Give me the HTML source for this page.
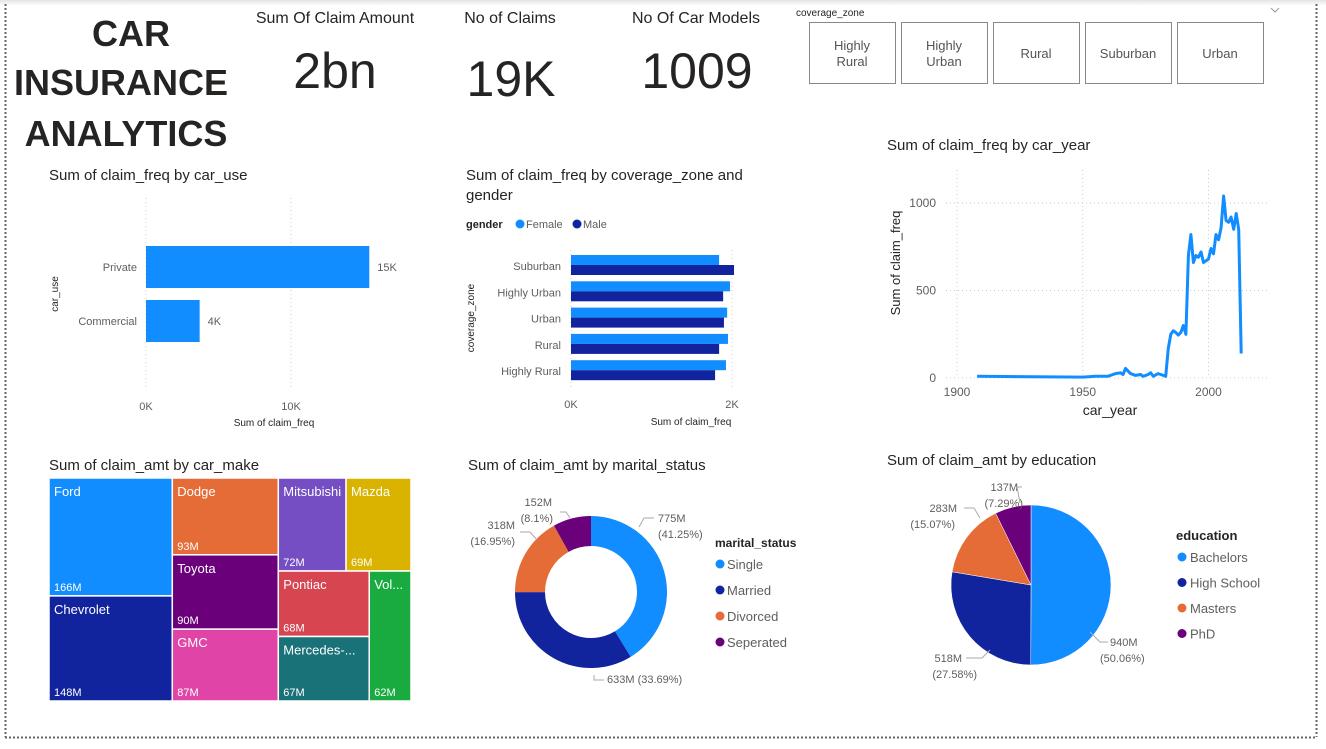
<!DOCTYPE html>
<html><head><meta charset="utf-8"><style>
body{margin:0;width:1326px;height:744px;background:#fff;font-family:"Liberation Sans",sans-serif;overflow:hidden}
svg text{font-family:"Liberation Sans",sans-serif}
</style></head><body>
<svg id="s" width="1326" height="744" xmlns="http://www.w3.org/2000/svg">
<defs><linearGradient id="sh" x1="0" y1="0" x2="0" y2="1"><stop offset="0" stop-color="#e4e4e4"/><stop offset="1" stop-color="#fff"/></linearGradient></defs>
<rect x="0" y="0" width="1326" height="6" fill="url(#sh)"/>
<line x1="5.5" y1="4" x2="5.5" y2="737" stroke="#666" stroke-width="2" stroke-dasharray="2,2"/>
<line x1="1316.5" y1="4" x2="1316.5" y2="737" stroke="#666" stroke-width="2" stroke-dasharray="2,2"/>
<line x1="5" y1="737.5" x2="1317" y2="737.5" stroke="#666" stroke-width="2" stroke-dasharray="2,2"/>
<g font-weight="bold" font-size="36" fill="#252423" text-anchor="middle">
<text x="131" y="46">CAR</text><text x="121" y="95">INSURANCE</text><text x="126" y="146">ANALYTICS</text></g>
<g text-anchor="middle" fill="#252423">
<text x="335" y="23" font-size="16">Sum Of Claim Amount</text><text x="335" y="88" font-size="50">2bn</text></g>
<g text-anchor="middle" fill="#252423">
<text x="510" y="23" font-size="16">No of Claims</text><text x="511" y="96" font-size="50">19K</text></g>
<g text-anchor="middle" fill="#252423">
<text x="696" y="23" font-size="16">No Of Car Models</text><text x="697" y="88" font-size="50">1009</text></g>
<text x="796" y="16" font-size="10" fill="#252423">coverage_zone</text>
<path d="M1271 8 l4 4 l4 -4" fill="none" stroke="#999"/>
<g id="slicer"></g>
<g font-size="15" fill="#252423">
<text x="49" y="180">Sum of claim_freq by car_use</text>
<text x="466" y="180">Sum of claim_freq by coverage_zone and</text>
<text x="466" y="200">gender</text>
<text x="887" y="150">Sum of claim_freq by car_year</text>
<text x="49" y="470">Sum of claim_amt by car_make</text>
<text x="468" y="470">Sum of claim_amt by marital_status</text>
<text x="887" y="465">Sum of claim_amt by education</text>
</g>
<g id="c1"></g><g id="c2"></g><g id="c3"></g><g id="c4"></g><g id="c5"></g><g id="c6"></g>
</svg>
<script>
const NS="http://www.w3.org/2000/svg";
function mk(p,t,a,txt){const e=document.createElementNS(NS,t);for(const k in a)e.setAttribute(k,a[k]);if(txt!==undefined)e.textContent=txt;p.appendChild(e);return e;}
const G=id=>document.getElementById(id);

// slicer
const zones=["Highly|Rural","Highly|Urban","Rural","Suburban","Urban"];
zones.forEach((z,i)=>{const x=809+i*92;
 const r=mk(G('slicer'),'rect',{x:x+.5,y:22.5,width:86,height:61,fill:'#fff',stroke:'#888'});
 
 
 const parts=z.split('|');
 parts.forEach((p,j)=>{const t=mk(G('slicer'),'text',{x:x+43,y:(parts.length==1?58:50)+j*16,'font-size':13,fill:'#555','text-anchor':'middle'},p);
 
 });
});

// chart 1: car_use
const useCats=["Private","Commercial"];
const useVals=[15.4,3.7];
const useLabels=["15K","4K"];
const useTicks=[0,10];
{const g=G('c1');const x=v=>146+v*14.5;const y0=[246,300];
 useTicks.forEach(t=>{mk(g,'line',{x1:x(t),y1:198,x2:x(t),y2:390,stroke:'#ccc','stroke-dasharray':'1,3'});
  mk(g,'text',{x:x(t),y:410,'font-size':11,fill:'#605e5c','text-anchor':'middle'},t+'K');});
 useCats.forEach((c,i)=>{const b=mk(g,'rect',{x:x(0),y:y0[i],width:x(useVals[i])-x(0),height:42,fill:'#118DFF'});
  
  
  mk(g,'text',{x:137,y:y0[i]+25,'font-size':11,fill:'#605e5c','text-anchor':'end'},c);
  mk(g,'text',{x:x(useVals[i])+8,y:y0[i]+25,'font-size':11,fill:'#605e5c'},useLabels[i]);});
 mk(g,'text',{x:274,y:426,'font-size':10,fill:'#252423','text-anchor':'middle'},'Sum of claim_freq');
 mk(g,'text',{transform:'translate(58,294) rotate(-90)','font-size':10,fill:'#252423','text-anchor':'middle'},'car_use');
}

// chart 2: coverage zone x gender
const zoneCats=["Suburban","Highly Urban","Urban","Rural","Highly Rural"];
const femaleVals=[1840,1975,1940,1950,1925];
const maleVals=[2025,1890,1900,1840,1790];
const zTicks=[0,2000];
{const g=G('c2');const x=v=>571+v*161/2000;
 mk(g,'text',{x:466,y:228,'font-size':11,'font-weight':'bold',fill:'#252423'},'gender');
 mk(g,'circle',{cx:520,cy:224,r:4.5,fill:'#118DFF'});mk(g,'text',{x:526,y:228,'font-size':11,fill:'#605e5c'},'Female');
 mk(g,'circle',{cx:577,cy:224,r:4.5,fill:'#12239E'});mk(g,'text',{x:583,y:228,'font-size':11,fill:'#605e5c'},'Male');
 zTicks.forEach(t=>{mk(g,'line',{x1:x(t),y1:250,x2:x(t),y2:390,stroke:'#ccc','stroke-dasharray':'1,3'});
  mk(g,'text',{x:x(t),y:408,'font-size':11,fill:'#605e5c','text-anchor':'middle'},(t/1000)+'K');});
 zoneCats.forEach((c,i)=>{const y=255+i*26.3;
  const f=mk(g,'rect',{x:x(0),y:y,width:x(femaleVals[i])-x(0),height:10,fill:'#118DFF'});
  
  
  const m=mk(g,'rect',{x:x(0),y:y+10,width:x(maleVals[i])-x(0),height:10,fill:'#12239E'});
  
  
  mk(g,'text',{x:561,y:y+15,'font-size':11,fill:'#605e5c','text-anchor':'end'},c);});
 mk(g,'text',{x:691,y:425,'font-size':10,fill:'#252423','text-anchor':'middle'},'Sum of claim_freq');
 mk(g,'text',{transform:'translate(474,318) rotate(-90)','font-size':10,fill:'#252423','text-anchor':'middle'},'coverage_zone');
}

// chart 3: line by car_year
const years=[1908,1950,1955,1960,1963,1965,1966,1967,1969,1971,1973,1974,1976,1977,1978,1980,1982,1983,1984,1985,1986,1987,1988,1989,1990,1991,1992,1993,1994,1995,1996,1997,1998,1999,2000,2001,2002,2003,2004,2005,2006,2007,2008,2009,2010,2011,2012,2013];
const freqVals=[10,5,10,10,25,30,20,55,25,15,20,10,20,30,10,25,15,10,170,250,270,260,245,260,300,250,700,820,660,700,690,720,660,670,680,740,710,820,790,860,1040,900,890,920,850,940,850,140];
const yearTicks=[1900,1950,2000];
const freqTicks=[0,500,1000];
{const g=G('c3');const x=v=>957+(v-1900)*2.515;const y=v=>378-v*0.175;
 freqTicks.forEach(t=>{mk(g,'line',{x1:946,y1:y(t),x2:1270,y2:y(t),stroke:'#ccc','stroke-dasharray':'1,3'});
  mk(g,'text',{x:936,y:y(t)+4,'font-size':12,fill:'#605e5c','text-anchor':'end'},t);});
 yearTicks.forEach(t=>{mk(g,'line',{x1:x(t),y1:170,x2:x(t),y2:378,stroke:'#ccc','stroke-dasharray':'1,3'});
  mk(g,'text',{x:x(t),y:396,'font-size':12,fill:'#605e5c','text-anchor':'middle'},t);});
 const l=mk(g,'path',{d:years.map((yr,i)=>(i?'L':'M')+x(yr).toFixed(1)+' '+y(freqVals[i]).toFixed(1)).join(''),fill:'none',stroke:'#118DFF','stroke-width':3,'stroke-linejoin':'round'});
 
 
 mk(g,'text',{x:1110,y:415,'font-size':14,fill:'#252423','text-anchor':'middle'},'car_year');
 mk(g,'text',{transform:'translate(900,263) rotate(-90)','font-size':13,fill:'#252423','text-anchor':'middle'},'Sum of claim_freq');
}

// chart 4: treemap
const makes=["Ford","Chevrolet","Dodge","Toyota","GMC","Mitsubishi","Mazda","Pontiac","Mercedes-...","Vol..."];
const makeVals=[166,148,93,90,87,72,69,68,67,62];
const makeLabels=["166M","148M","93M","90M","87M","72M","69M","68M","67M","62M"];
const makeColors=['#118DFF','#12239E','#E66C37','#6B007B','#E044A7','#744EC2','#D9B300','#D64550','#197278','#1AAB40'];
{const g=G('c4');let R={x:49,y:478,w:362,h:223};
 const total=makeVals.reduce((a,b)=>a+b,0);const k=R.w*R.h/total;
 const rects=[];let i=0;
 const worst=(row,side)=>{const s=row.reduce((a,b)=>a+b,0);const t=s/side;return Math.max(...row.map(a=>Math.max(t/(a/t),(a/t)/t)));};
 while(i<makeVals.length){const side=Math.min(R.w,R.h);let row=[makeVals[i]*k];let j=i+1;
  while(j<makeVals.length){const nr=row.concat([makeVals[j]*k]);if(worst(nr,side)<=worst(row,side)){row=nr;j++;}else break;}
  const s=row.reduce((a,b)=>a+b,0);
  if(R.h<=R.w){const w=s/R.h;let yy=R.y;row.forEach((a,n)=>{const h=a/w;rects.push([R.x,yy,w,h,i+n]);yy+=h;});R={x:R.x+w,y:R.y,w:R.w-w,h:R.h};}
  else{const h=s/R.w;let xx=R.x;row.forEach((a,n)=>{const w=a/h;rects.push([xx,R.y,w,h,i+n]);xx+=w;});R={x:R.x,y:R.y+h,w:R.w,h:R.h-h};}
  i=j;}
 rects.forEach(([x,y,w,h,n])=>{const r=mk(g,'rect',{x:x,y:y,width:w,height:h,fill:makeColors[n],stroke:'#fff','stroke-width':1.5});
  
  
  mk(g,'text',{x:x+5,y:y+18,'font-size':13,fill:'#fff'},makes[n]);
  mk(g,'text',{x:x+5,y:y+h-5,'font-size':11,fill:'#fff'},makeLabels[n]);});
}

function arc(cx,cy,r0,r1,a0,a1){const p=(r,a)=>[cx+r*Math.sin(a),cy-r*Math.cos(a)];const L=a1-a0>Math.PI?1:0;
 const [x1,y1]=p(r1,a0),[x2,y2]=p(r1,a1);
 if(r0==0)return `M${cx} ${cy}L${x1} ${y1}A${r1} ${r1} 0 ${L} 1 ${x2} ${y2}Z`;
 const [x3,y3]=p(r0,a1),[x4,y4]=p(r0,a0);
 return `M${x1} ${y1}A${r1} ${r1} 0 ${L} 1 ${x2} ${y2}L${x3} ${y3}A${r0} ${r0} 0 ${L} 0 ${x4} ${y4}Z`;}

// chart 5: donut
const maritalCats=["Single","Married","Divorced","Seperated"];
const maritalVals=[775,633,318,152];
const maritalPct=["41.25%","33.69%","16.95%","8.1%"];
const mColors=['#118DFF','#12239E','#E66C37','#6B007B'];
{const g=G('c5');const cx=591,cy=592;const tot=maritalVals.reduce((a,b)=>a+b,0);let a=0;
 maritalVals.forEach((v,i)=>{const a1=a+v/tot*2*Math.PI;const s=mk(g,'path',{d:arc(cx,cy,46,76,a,a1),fill:mColors[i]});
  
  a=a1;});
 const f=(i)=>maritalVals[i]+'M';
 mk(g,'text',{x:658,y:522,'font-size':11,fill:'#605e5c'},f(0));mk(g,'text',{x:658,y:538,'font-size':11,fill:'#605e5c'},'('+maritalPct[0]+')');
 mk(g,'text',{x:607,y:683,'font-size':11,fill:'#605e5c'},f(1)+' ('+maritalPct[1]+')');
 mk(g,'text',{x:515,y:529,'font-size':11,fill:'#605e5c','text-anchor':'end'},f(2));mk(g,'text',{x:515,y:545,'font-size':11,fill:'#605e5c','text-anchor':'end'},'('+maritalPct[2]+')');
 mk(g,'text',{x:552,y:506,'font-size':11,fill:'#605e5c','text-anchor':'end'},f(3));mk(g,'text',{x:553,y:522,'font-size':11,fill:'#605e5c','text-anchor':'end'},'('+maritalPct[3]+')');
 [[654,518,644,518,639,527],[594,675,594,680,604,680],[520,532,530,532,537,540],[560,512,566,512,570,518]].forEach(p=>mk(g,'path',{d:`M${p[0]} ${p[1]}L${p[2]} ${p[3]}L${p[4]} ${p[5]}`,fill:'none',stroke:'#aaa'}));
 mk(g,'text',{x:715,y:547,'font-size':12,'font-weight':'bold',fill:'#252423'},'marital_status');
 maritalCats.forEach((c,i)=>{mk(g,'circle',{cx:720,cy:564+i*26,r:4.5,fill:mColors[i]});mk(g,'text',{x:727,y:569+i*26,'font-size':13,fill:'#605e5c'},c);});
}

// chart 6: pie
const eduCats=["Bachelors","High School","Masters","PhD"];
const eduVals=[940,518,283,137];
const eduPct=["50.06%","27.58%","15.07%","7.29%"];
{const g=G('c6');const cx=1031,cy=585;const tot=eduVals.reduce((a,b)=>a+b,0);let a=0;
 eduVals.forEach((v,i)=>{const a1=a+v/tot*2*Math.PI;const s=mk(g,'path',{d:arc(cx,cy,0,80,a,a1),fill:mColors[i],stroke:'#fff','stroke-width':0.5});
  
  a=a1;});
 const T=(x,y,t,an)=>mk(g,'text',{x:x,y:y,'font-size':11,fill:'#605e5c','text-anchor':an||'start'},t);
 T(1110,646,eduVals[0]+'M');T(1100,662,'('+eduPct[0]+')');
 T(962,662,eduVals[1]+'M','end');T(977,678,'('+eduPct[1]+')','end');
 T(957,512,eduVals[2]+'M','end');T(955,528,'('+eduPct[2]+')','end');
 T(1018,491,eduVals[3]+'M','end');T(1023,507,'('+eduPct[3]+')','end');
 [[1090,632,1100,642,1108,642],[990,650,982,658,966,658],[964,508,974,508,980,518],[1022,487,1017,487,1020,503]].forEach(p=>mk(g,'path',{d:`M${p[0]} ${p[1]}L${p[2]} ${p[3]}L${p[4]} ${p[5]}`,fill:'none',stroke:'#aaa'}));
 mk(g,'text',{x:1176,y:540,'font-size':13,'font-weight':'bold',fill:'#252423'},'education');
 eduCats.forEach((c,i)=>{mk(g,'circle',{cx:1182,cy:557+i*25.5,r:4.5,fill:mColors[i]});mk(g,'text',{x:1190,y:562+i*25.5,'font-size':13,fill:'#605e5c'},c);});
}
</script>
</body></html>
